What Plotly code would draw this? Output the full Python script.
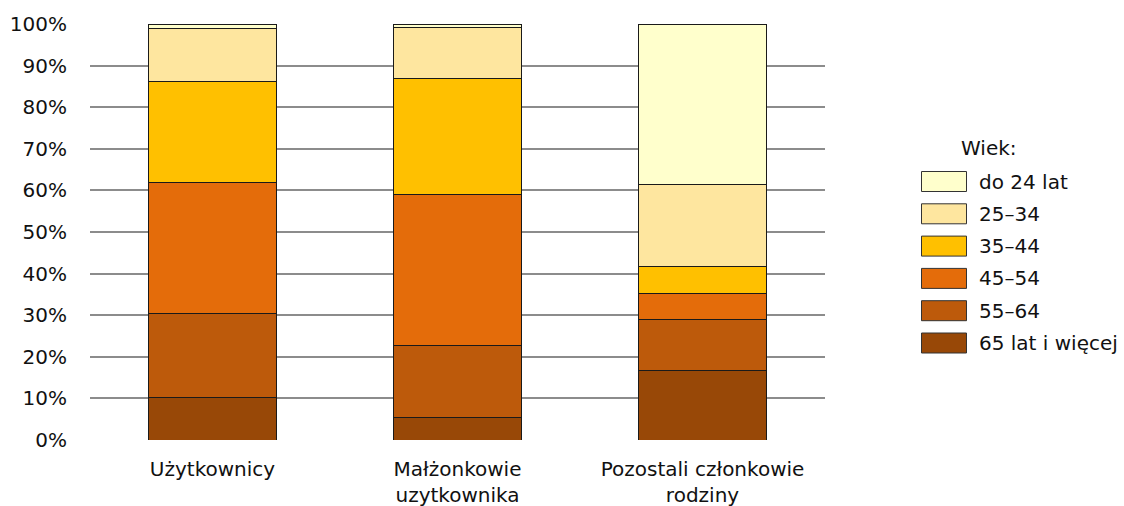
import plotly.graph_objects as go

# Udział grup wieku (%) w poszczególnych kategoriach osób
categories = ["Użytkownicy", "Małżonkowie<br>uzytkownika", "Pozostali członkowie<br>rodziny"]
age_groups = ["65 lat i więcej", "55–64", "45–54", "35–44", "25–34", "do 24 lat"]

share_65_plus = [10.3, 5.5, 16.6]
share_55_64 = [20.0, 17.1, 12.3]
share_45_54 = [31.5, 36.5, 6.2]
share_35_44 = [24.3, 27.7, 6.7]
share_25_34 = [12.7, 12.3, 19.5]
share_to_24 = [1.2, 0.9, 38.7]

y_ticks = [0, 10, 20, 30, 40, 50, 60, 70, 80, 90, 100]
legend_title = "Wiek:"

series = [share_65_plus, share_55_64, share_45_54, share_35_44, share_25_34, share_to_24]
colors = ["#984807", "#BD5A0B", "#E46C0A", "#FFC000", "#FEE69F", "#FFFFCC"]

FONT = "DejaVu Sans, Arial, sans-serif"
FS = 20
W, H = 1124, 506
ML, MR, MT, MB = 90, 299, 24, 66

fig = go.Figure()
for name, vals, col in zip(age_groups, series, colors):
    fig.add_trace(go.Bar(
        x=categories, y=vals, name=name,
        marker=dict(color=col, line=dict(color="#1a1a1a", width=1)),
        showlegend=False,
    ))

fig.update_layout(
    width=W, height=H,
    margin=dict(l=ML, r=MR, t=MT, b=MB),
    barmode="stack", bargap=0.478,
    paper_bgcolor="white", plot_bgcolor="white",
    font=dict(family=FONT, size=FS, color="#111111"),
    xaxis=dict(
        showline=False, showgrid=False, zeroline=False, automargin=False,
        ticks="outside", ticklen=11, tickcolor="rgba(0,0,0,0)",
        tickfont=dict(size=FS),
    ),
    yaxis=dict(
        range=[0, 100], tickvals=y_ticks, automargin=False,
        ticktext=[f"{v}%" for v in y_ticks],
        showgrid=True, gridcolor="#8c8c8c", gridwidth=1.5,
        zeroline=False, showline=False,
        ticks="outside", ticklen=18, tickcolor="rgba(0,0,0,0)",
        tickfont=dict(size=FS),
    ),
)

# Legenda rysowana ręcznie (większe prostokąty niż w domyślnej legendzie)
pw = W - ML - MR
ph = H - MT - MB

def px_x(px):
    return (px - ML) / pw

def px_y(py):
    return (H - MB - py) / ph

fig.add_annotation(
    x=px_x(989), y=px_y(148), xref="paper", yref="paper",
    text=legend_title, showarrow=False, xanchor="center", yanchor="middle",
    font=dict(family=FONT, size=FS, color="#111111"),
)

legend_order = list(zip(age_groups, colors))[::-1]
for i, (name, col) in enumerate(legend_order):
    cy = 181.5 + i * 32.3
    fig.add_shape(
        type="rect", xref="paper", yref="paper",
        x0=px_x(921.5), x1=px_x(966.5), y0=px_y(cy - 10), y1=px_y(cy + 10),
        fillcolor=col, line=dict(color="#333333", width=1),
    )
    fig.add_annotation(
        x=px_x(977), y=px_y(cy), xref="paper", yref="paper",
        text=name, showarrow=False, xanchor="left", yanchor="middle",
        font=dict(family=FONT, size=FS, color="#111111"),
    )

fig.write_html("out.html")
